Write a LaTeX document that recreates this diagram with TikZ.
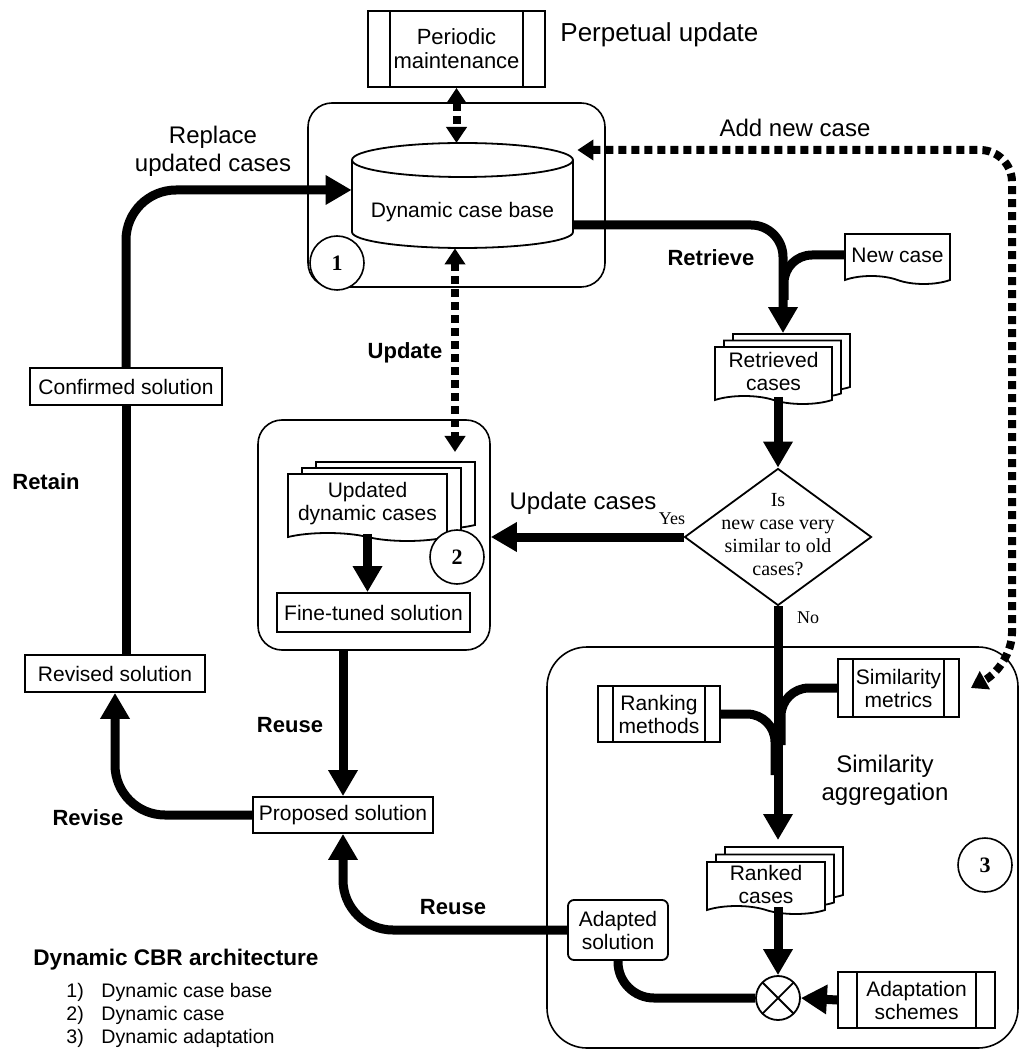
\documentclass[tikz,border=0pt]{standalone}
\usepackage{fontspec}
\setmainfont{Liberation Sans}
\newfontfamily\serifnum{Liberation Serif}
\usetikzlibrary{arrows.meta,shapes.geometric,shapes.symbols,shadows}

\tikzset{
  box/.style={draw,line width=0.9pt,fill=white,inner sep=1pt,align=center,
    font=\fontsize{10.5}{11.5}\selectfont},
  procbox/.style={box,path picture={
      \draw[line width=0.9pt] ([xshift=#1]path picture bounding box.north west)
        -- ([xshift=#1]path picture bounding box.south west);
      \draw[line width=0.9pt] ([xshift=-#1]path picture bounding box.north east)
        -- ([xshift=-#1]path picture bounding box.south east);}},
  procbox/.default=7.5pt,
  docbox/.style={box,tape,tape bend top=none,tape bend bottom=out and in,tape bend height=4pt},
  container/.style={draw,line width=0.8pt,rounded corners=#1,inner sep=0pt},
  flow/.style={line width=4.5pt,-{Triangle[length=13pt,width=14pt]}},
  flowline/.style={line width=4.5pt},
  dotflow/.style={line width=4pt,dash pattern=on 4pt off 2.5pt,
    {Triangle[length=8pt,width=10pt]}-{Triangle[length=8pt,width=10pt]}},
  steplabel/.style={font=\bfseries\fontsize{11}{13}\selectfont},
  note/.style={font=\fontsize{12}{14}\selectfont,align=center},
  tag/.style={draw,circle,line width=0.8pt,fill=white,minimum size=27pt,inner sep=0pt,
    font=\serifnum\bfseries\fontsize{11}{13}\selectfont},
}

\begin{document}
\begin{tikzpicture}[x=0.5pt,y=-0.5pt]
  % ===== Frame =====
  \useasboundingbox (0,0) rectangle (1020,1052);

  % ===== Containers =====
  \node[container=12pt,minimum width=148.5pt,minimum height=92pt] (box1) at (456.5,195) {};
  \node[container=12pt,minimum width=116pt,minimum height=115pt] (box2) at (374,535) {};
  \node[container=20pt,minimum width=235.5pt,minimum height=200.5pt] (box3) at (782.5,847.5) {};

  % ===== Dynamic case base =====
  \draw[line width=0.9pt,fill=white] (352,160) -- (352,232)
    arc[start angle=180,end angle=0,x radius=110.5,y radius=16] -- (573,160);
  \draw[line width=0.9pt,fill=white] (462.5,160) ellipse[x radius=110.5,y radius=17];
  \node[minimum width=110.5pt,minimum height=36pt,inner sep=0pt,
    font=\fontsize{10.5}{12}\selectfont] (cb) at (462.5,212) {Dynamic case base};
  \coordinate (cbtop) at (462.5,143);

  % ===== Boxes =====
  \node[procbox=11pt,minimum width=88.5pt,minimum height=38pt,
    font=\fontsize{11}{12}\selectfont] (pm) at (456.5,49) {Periodic\\maintenance};
  \node[box,minimum width=96pt,minimum height=18.5pt] (conf) at (126,386.5) {Confirmed solution};
  \node[box,minimum width=90pt,minimum height=18.5pt] (rev) at (115,673.5) {Revised solution};
  \node[box,minimum width=90pt,minimum height=18pt] (prop) at (343,815) {Proposed solution};
  \node[box,minimum width=96.5pt,minimum height=19.5pt] (fine) at (373.5,612.5) {Fine-tuned solution};
  \node[docbox,minimum width=52.5pt,minimum height=25pt] (newc) at (897.5,255) {New case};
  \node[docbox,minimum width=58.5pt,minimum height=28.5pt,
    copy shadow={shadow xshift=9pt,shadow yshift=6.5pt},
    copy shadow={shadow xshift=4.5pt,shadow yshift=3.25pt}] (ret) at (773.5,371.5) {Retrieved\\cases};
  \node[docbox,minimum width=79.5pt,minimum height=33.5pt,
    copy shadow={shadow xshift=14pt,shadow yshift=6pt},
    copy shadow={shadow xshift=7pt,shadow yshift=3pt}] (upd) at (367.5,503.5) {Updated\\dynamic cases};
  \node[docbox,minimum width=59pt,minimum height=26pt,
    copy shadow={shadow xshift=9pt,shadow yshift=7.5pt},
    copy shadow={shadow xshift=4.5pt,shadow yshift=3.75pt}] (rank) at (766,884) {Ranked\\cases};
  \node[procbox,minimum width=60.5pt,minimum height=29pt] (simm) at (898.5,688) {Similarity\\metrics};
  \node[procbox,minimum width=61pt,minimum height=28pt] (rankm) at (659,714) {Ranking\\methods};
  \node[procbox=9.5pt,minimum width=78.5pt,minimum height=28pt] (adsch) at (916.5,1000) {Adaptation\\schemes};
  \node[box,rounded corners=3pt,minimum width=50pt,minimum height=30pt] (adapt) at (618,930) {Adapted\\solution};
  \node[draw,circle,line width=0.9pt,fill=white,minimum size=22pt,inner sep=0pt,
    path picture={\draw[line width=0.9pt] (path picture bounding box.north west) -- (path picture bounding box.south east)
      (path picture bounding box.north east) -- (path picture bounding box.south west);}] (xo) at (778,998) {};

  % ===== Decision =====
  \node[draw,diamond,line width=0.9pt,fill=white,minimum width=93.5pt,minimum height=68.5pt,
    inner sep=0pt] (sim) at (778,537) {};
  \node[font=\serifnum\fontsize{10}{11.5}\selectfont,align=center] (simtxt) at (778,535)
    {Is\\new case very\\similar to old\\cases?};

  % ===== Tags =====
  \node[tag] (t1) at (337,263) {1};
  \node[tag] (t2) at (457,557) {2};
  \node[tag] (t3) at (985,865) {3};

  % ===== Flows =====
  \coordinate (rjoin) at (784,300);
  \coordinate (updtop) at (455,452);
  \coordinate (ranktop) at (778,840);
  \coordinate (mjoinA) at (781,745);
  \coordinate (mjoinB) at (775,775);
  \draw[flow,rounded corners=16pt] ([yshift=-6.5pt]cb.east) -| ([xshift=4.75pt,yshift=6.5pt]ret.north);
  \draw[flowline,rounded corners=14pt] (newc.west) -| (rjoin);
  \draw[flow] (sim.north |- ret.south) -- (sim.north);
  \draw[flow] (sim.west) -- (sim.west -| box2.east);
  \draw[flow] (sim.south) -- (ranktop);
  \draw[flowline,rounded corners=14pt] (simm.west) -| (mjoinA);
  \draw[flowline,rounded corners=14pt] (rankm.east) -| (mjoinB);
  \draw[flow] (xo.north |- rank.south) -- (xo.north);
  \draw[flowline,rounded corners=18pt] (adapt.south) |- (xo.west);
  \draw[flow] (adsch.west) -- (xo.east);
  \draw[flow,rounded corners=25pt] (adapt.west) -| (prop.south);
  \draw[flow] (box2.south -| prop.north) -- (prop.north);
  \draw[flow] (upd.south) -- (upd.south |- fine.north);
  \draw[flow,rounded corners=25pt] (prop.west) -| (rev.south);
  \draw[flowline] (conf.south |- rev.north) -- (conf.south);
  \draw[flow,rounded corners=25pt] (conf.north) |- ([yshift=11pt]cb.west);

  % ===== Dotted updates =====
  \draw[dotflow] (pm.south) -- (pm.south |- cbtop);
  \draw[dotflow] (cb.south -| updtop) -- (updtop);
  \draw[dotflow,rounded corners=16pt] ([xshift=2pt,yshift=31pt]cb.east) -- (1012,150)
    -- (1012,665) -- ([xshift=5.5pt]simm.east);

  % ===== Labels =====
  \node[font=\fontsize{13}{15}\selectfont,anchor=west,inner sep=0pt] (title) at (560,35) {Perpetual update};
  \node[note] (lblrepl) at (213,151) {Replace\\updated cases};
  \node[note] (lbladd) at (795,128) {Add new case};
  \node[note] (lblupdc) at (583,503) {Update cases};
  \node[note] (lblagg) at (885,780) {Similarity\\aggregation};
  \node[steplabel] (lblretr) at (711,258) {Retrieve};
  \node[steplabel] (lblupd) at (405,353) {Update};
  \node[steplabel] (lblretain) at (46,482) {Retain};
  \node[steplabel] (lblreuseA) at (290,725) {Reuse};
  \node[steplabel] (lblrevise) at (88,818) {Revise};
  \node[steplabel] (lblreuseB) at (453,907) {Reuse};
  \node[font=\serifnum\fontsize{9}{10}\selectfont] (lblyes) at (672,519) {Yes};
  \node[font=\serifnum\fontsize{9}{10}\selectfont] (lblno) at (808,618) {No};

  % ===== Legend =====
  \node[anchor=west,inner sep=0pt,font=\bfseries\fontsize{11.3}{13}\selectfont] (legtitle) at (33,960)
    {Dynamic CBR architecture};
  \foreach \i/\txt in {1/Dynamic case base,2/Dynamic case,3/Dynamic adaptation}{
    \node[anchor=west,inner sep=0pt,font=\fontsize{9.8}{11}\selectfont] (legnum\i) at (66,{969+23*\i}) {\i)};
    \node[anchor=west,inner sep=0pt,font=\fontsize{9.8}{11}\selectfont] (legtxt\i) at (101,{969+23*\i}) {\txt};
  }

\end{tikzpicture}
\end{document}
